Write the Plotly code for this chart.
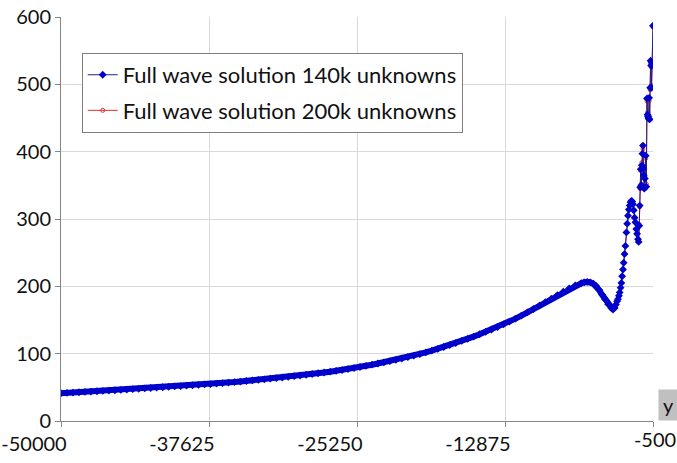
import plotly.graph_objects as go

# ---- data ----
x_smooth = [
    -50000, -49500, -49000, -48500, -48000, -47500, -47000, -46500, -46000, -45500,
    -45000, -44500, -44000, -43500, -43000, -42500, -42000, -41500, -41000, -40500,
    -40000, -39500, -39000, -38500, -38000, -37500, -37000, -36500, -36000, -35500,
    -35000, -34500, -34000, -33500, -33000, -32500, -32000, -31500, -31000, -30500,
    -30000, -29500, -29000, -28500, -28000, -27500, -27000, -26500, -26000, -25500,
    -25000, -24500, -24000, -23500, -23000, -22500, -22000, -21500, -21000, -20500,
    -20000, -19500, -19000, -18500, -18000, -17500, -17000, -16500, -16000, -15500,
    -15000, -14500, -14000, -13500, -13000, -12500, -12000, -11500, -11000, -10500,
    -10000, -9500, -9000, -8500, -8000, -7500, -7000, -6500,
    -6250, -6000, -5750, -5500, -5250, -5000, -4750, -4500, -4250, -4000, -3850,
]
y_smooth = [
    41.3, 41.8, 42.2, 42.7, 43.2, 43.7, 44.2, 44.7, 45.2, 45.7,
    46.2, 46.7, 47.3, 47.8, 48.4, 49.0, 49.5, 50.1, 50.7, 51.3,
    51.9, 52.5, 53.1, 53.7, 54.3, 54.9, 55.6, 56.3, 57.0, 57.8,
    58.6, 59.4, 60.2, 61.0, 61.9, 62.8, 63.7, 64.6, 65.6, 66.6,
    67.6, 68.7, 69.8, 70.9, 72.0, 73.2, 74.4, 75.7, 77.1, 78.6,
    80.2, 81.9, 83.6, 85.4, 87.2, 89.0, 90.9, 92.8, 94.8, 97.0,
    99.3, 101.8, 104.4, 107.1, 109.9, 112.8, 115.8, 118.9, 122.1, 125.4,
    128.8, 132.3, 135.9, 139.6, 143.4, 147.6, 152.0, 156.6, 161.4, 166.3,
    171.3, 176.4, 181.6, 186.8, 192.0, 197.0, 201.3, 204.6,
    206.0, 206.6, 206.0, 204.0, 200.5, 194.5, 187.5, 180.5, 173.5, 168.0, 165.5,
]

x_tail = [
    -3700, -3600, -3500, -3430, -3350, -3285, -3210, -3143, -3080, -3010,
    -2950, -2880, -2809, -2725, -2660, -2591, -2520, -2449, -2380, -2307,
    -2240, -2174, -2110, -2040, -1973, -1900, -1830, -1755, -1700, -1650,
    -1613, -1570, -1529, -1480, -1430, -1387, -1337, -1300, -1278, -1230,
    -1180, -1111, -1060, -1002, -960, -919, -870, -820, -777, -740,
    -700, -660, -620, -580, -540, -500,
]
y_tail_140k = [
    168, 173, 178, 181, 186, 191, 198, 205, 215, 225,
    235, 248, 260, 280, 293, 305, 314, 320, 325, 327,
    326, 322, 313, 302, 295, 285, 278, 270, 266, 290,
    320, 347, 374, 350, 380, 397, 409, 375, 365, 345,
    360, 394, 348, 479, 455, 452, 449, 480, 448, 495,
    535, 528, 495, 532, 529, 587,
]
y_tail_200k = [
    168, 173, 178, 181, 186, 191, 198, 205, 215, 225,
    235, 248, 260, 280, 293, 305, 314, 320, 325, 327,
    326, 322, 313, 302, 295, 285, 278, 270, 268, 292,
    318, 345, 372, 352, 384, 409, 404, 372, 362, 348,
    363, 390, 352, 475, 458, 450, 452, 476, 452, 492,
    532, 526, 498, 530, 531, 585,
]

x_tickvals = [-50000, -37625, -25250, -12875, -500]
x_ticktext = ["-50000", "-37625", "-25250", "-12875", ""]
x_last_tick = [-500]
x_last_text = ["-500"]
y_tickvals = [0, 100, 200, 300, 400, 500, 600]

name_140k = "Full wave solution 140k unknowns"
name_200k = "Full wave solution 200k unknowns"

FONT = "Lato"
TXT = "#111111"

fig = go.Figure()

# 200k series (base axes, drawn underneath)
fig.add_trace(go.Scatter(
    x=x_smooth + x_tail, y=y_smooth + y_tail_200k,
    mode="lines+markers", name=name_200k, legendrank=2, legendgroup="b",
    line=dict(color="#e03030", width=1),
    marker=dict(symbol="circle-open", size=4, color="#e03030", line=dict(width=1)),
))
# dense-marker band of the 140k series (markers overlap into a solid band)
fig.add_trace(go.Scatter(
    x=x_smooth, y=y_smooth, mode="lines", showlegend=False, hoverinfo="skip",
    legendgroup="a", line=dict(color="#0000cc", width=6), xaxis="x2",
))
# 140k series
fig.add_trace(go.Scatter(
    x=x_smooth + x_tail, y=y_smooth + y_tail_140k,
    mode="lines+markers", name=name_140k, legendrank=1, legendgroup="a",
    line=dict(color="#20208a", width=1), xaxis="x2",
    marker=dict(symbol="diamond", size=6, color="#0000cc", line=dict(width=0)),
))

axis_common = dict(
    showgrid=True, gridcolor="#d9d9d9", gridwidth=1,
    showline=True, linecolor="#868686", linewidth=1,
    ticks="outside", ticklen=5, tickcolor="#868686",
    zeroline=False, automargin=False,
    tickfont=dict(family=FONT, size=20, color=TXT),
)

fig.update_layout(
    width=677, height=463,
    margin=dict(l=61, r=24, t=17, b=42),
    paper_bgcolor="white", plot_bgcolor="white",
    font=dict(family=FONT, size=20, color=TXT),
    xaxis=dict(range=[-50000, -500], tickvals=x_tickvals, ticktext=x_ticktext,
               ticklabelshift=-27, ticklabeloverflow="allow", **axis_common),
    yaxis=dict(range=[0, 600], tickvals=y_tickvals, **axis_common),
    legend=dict(
        x=0.035, y=0.911, xanchor="left", yanchor="top",
        bordercolor="#7f7f7f", borderwidth=1, bgcolor="white",
        font=dict(family=FONT, size=22, color=TXT),
        tracegroupgap=4, itemwidth=30,
    ),
    annotations=[dict(
        text="y", xref="paper", yref="paper", x=1.0, y=0.0, xshift=5,
        xanchor="left", yanchor="bottom", showarrow=False,
        bgcolor="#c0c0c0", width=17, height=28, borderpad=1,
        font=dict(family=FONT, size=20, color=TXT),
    )],
)
fig.update_layout(xaxis2=dict(
    range=[-50000, -500], overlaying="x", anchor="y", side="bottom",
    tickvals=x_last_tick, ticktext=x_last_text, ticklabelshift=2,
    ticklabeloverflow="allow", showgrid=False, showline=False, ticks="",
    zeroline=False, automargin=False, ticklabelstandoff=5,
    tickfont=dict(family=FONT, size=20, color=TXT),
))

fig.write_html("out.html")
